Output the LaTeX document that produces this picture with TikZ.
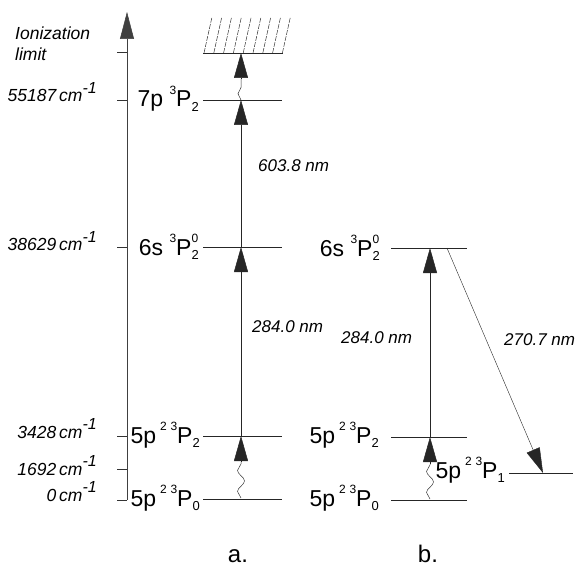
\documentclass[tikz,border=0pt]{standalone}
\usepackage{fontspec}
\setmainfont{Liberation Sans}
\usetikzlibrary{arrows.meta,decorations.pathmorphing}
\newcommand{\up}[1]{\raisebox{0.55em}{\fontsize{12}{12}\selectfont #1}}
\newcommand{\dn}[1]{\raisebox{-0.2em}{\fontsize{13}{13}\selectfont #1}}
\newcommand{\updn}[2]{\makebox[0pt][l]{\up{#1}}\dn{#2}}
\newcommand{\invcm}{\,cm\raisebox{0.5em}{\fontsize{16}{16}\selectfont -1}}
\tikzset{
  x=1pt, y=1pt,
  level/.style={line width=0.8pt, black!85},
  tick/.style={line width=0.6pt, black!80},
  axisline/.style={line width=0.5pt, black!75, -{Triangle[length=27pt,width=14pt]}},
  exc/.style={line width=0.5pt, black!85, -{Triangle[length=25pt,width=14pt]}},
  wave/.style={line width=0.5pt, black!80, decorate, decoration={snake, amplitude=3.5pt, segment length=21pt}},
  hatch/.style={line width=0.5pt, black!80, dash pattern=on 5pt off 1.2pt},
  lvlabel/.style={font=\fontsize{23}{23}\selectfont, anchor=base east, inner sep=0pt},
  enlabel/.style={font=\fontsize{17.5}{17.5}\selectfont\itshape, anchor=base east, inner sep=0pt},
  nmlabel/.style={font=\fontsize{17}{17}\selectfont\itshape, anchor=base west, inner sep=0pt},
  panel/.style={font=\fontsize{24}{24}\selectfont, anchor=base, inner sep=0pt}
}
\begin{document}
\begin{tikzpicture}
\useasboundingbox (0,0) rectangle (579,-567);
% energy axis
\coordinate (axB) at (127,-500);
\coordinate (axT) at (127,-12);
\draw[axisline] (axB) -- (axT);
\foreach \yy/\nm in {52/ion,100/sevp,247/sixs,436/pTwo,469/pOne,500/pZero}{
  \coordinate (t\nm) at (117,-\yy);
  \coordinate (ta\nm) at (127,-\yy);
  \draw[tick] (t\nm) -- (ta\nm);
}
\node[font=\fontsize{17.5}{17.5}\selectfont\itshape, anchor=base west, inner sep=0pt] (ionA) at (15,-40) {Ionization};
\node[font=\fontsize{17.5}{17.5}\selectfont\itshape, anchor=base west, inner sep=0pt] (ionB) at (15,-61) {limit};
\node[enlabel] (e7) at (97,-102) {55187\invcm};
\node[enlabel] (e6) at (97,-251) {38629\invcm};
\node[enlabel] (e3) at (97,-438) {3428\invcm};
\node[enlabel] (e1) at (97,-475) {1692\invcm};
\node[enlabel] (e0) at (97,-501) {0\invcm};

% panel a levels
\coordinate (aIonL) at (203,-53);  \coordinate (aIonR) at (283,-53);
\coordinate (a7L) at (203,-100);   \coordinate (a7R) at (282,-100);
\coordinate (a6L) at (203,-247);   \coordinate (a6R) at (282,-247);
\coordinate (a2L) at (203,-436);   \coordinate (a2R) at (282,-436);
\coordinate (a0L) at (203,-499);   \coordinate (a0R) at (282,-499);
\foreach \p in {aIon,a7,a6,a2,a0}{\draw[level] (\p L) -- (\p R);}
\foreach \i in {0,...,8}{
  \coordinate (hb\i) at (204+9.8*\i,-53);
  \coordinate (ht\i) at (212+9.8*\i,-17);
  \draw[hatch] (hb\i) -- (ht\i);
}
\node[lvlabel] (la7) at (199,-107) {7p \up{3}P\dn{2}};
\node[lvlabel] (la6) at (199,-255) {6s \up{3}P\updn{0}{2}};
\node[lvlabel] (la2) at (200,-443) {5p\,\up{2}\,\up{3}P\dn{2}};
\node[lvlabel] (la0) at (200,-506) {5p\,\up{2}\,\up{3}P\dn{0}};

% panel a transitions
\coordinate (a0) at (241,-498);
\coordinate (a0w) at (241,-462);
\coordinate (a2) at (241,-436);
\coordinate (a6) at (241,-247);
\coordinate (a7) at (241,-100);
\coordinate (a7w) at (241,-79);
\coordinate (aIon) at (241,-53);
\draw[wave] (a0) -- (a0w);
\draw[exc] (a0w) -- (a2);
\draw[exc] (a2) -- (a6);
\draw[exc] (a6) -- (a7);
\draw[wave, decoration={snake, amplitude=3pt, segment length=20pt}] (a7) -- (a7w);
\draw[exc] (a7w) -- (aIon);
\node[nmlabel] (nm1) at (258,-172) {603.8 nm};
\node[nmlabel] (nm2) at (252,-332) {284.0 nm};

% panel b levels
\coordinate (b6L) at (391,-248);  \coordinate (b6R) at (467,-248);
\coordinate (b2L) at (391,-437);  \coordinate (b2R) at (467,-437);
\coordinate (b0L) at (391,-500);  \coordinate (b0R) at (467,-500);
\coordinate (b1L) at (509,-473);  \coordinate (b1R) at (573,-473);
\foreach \p in {b6,b2,b0,b1}{\draw[level] (\p L) -- (\p R);}
\node[lvlabel] (lb6) at (380,-256) {6s \up{3}P\updn{0}{2}};
\node[lvlabel] (lb2) at (379,-443) {5p\,\up{2}\,\up{3}P\dn{2}};
\node[lvlabel] (lb0) at (379,-506) {5p\,\up{2}\,\up{3}P\dn{0}};
\node[lvlabel] (lb1) at (505,-478) {5p\,\up{2}\,\up{3}P\dn{1}};

% panel b transitions
\coordinate (b0) at (430,-499);
\coordinate (b0w) at (430,-464);
\coordinate (b2) at (430,-437);
\coordinate (b6) at (430,-248);
\coordinate (b6d) at (447,-248);
\coordinate (b1) at (543,-473);
\draw[wave] (b0) -- (b0w);
\draw[exc] (b0w) -- (b2);
\draw[exc] (b2) -- (b6);
\draw[exc, line width=0.4pt] (b6d) -- (b1);
\node[nmlabel] (nm3) at (341,-343) {284.0 nm};
\node[nmlabel] (nm4) at (504,-345) {270.7 nm};

% panel names
\node[panel] (pa) at (238,-562) {a.};
\node[panel] (pb) at (428,-562) {b.};
\end{tikzpicture}
\end{document}
